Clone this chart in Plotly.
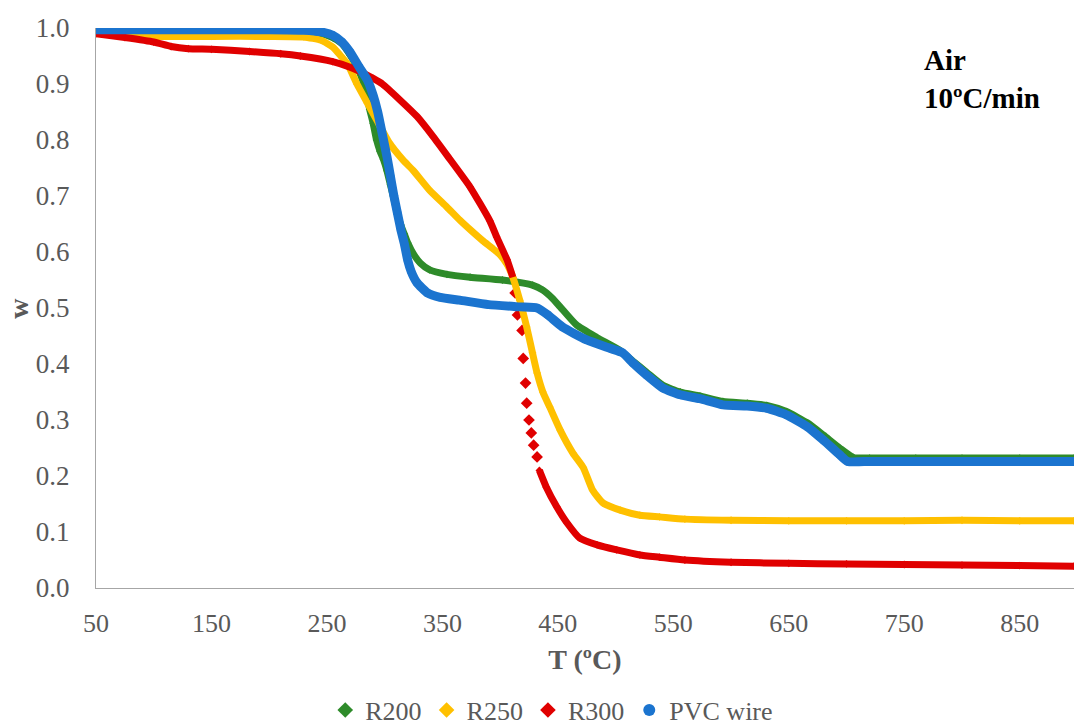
import plotly.graph_objects as go

# ---------------- data ----------------
r200_T = [50, 100, 150, 200, 230, 245, 255, 263, 270, 278,
          284, 287, 290, 293, 296, 299, 302, 305, 308, 311,
          314, 317, 320, 325, 331, 339, 354, 374, 402, 428,
          437, 445, 452, 466, 484, 504, 515, 527, 541, 556,
          573, 593, 614, 631, 648, 666, 680, 694, 706, 720,
          760, 800, 850, 897]
r200_w = [0.995, 0.995, 0.995, 0.995, 0.994, 0.99, 0.983, 0.972, 0.952, 0.922,
          0.885, 0.855, 0.83, 0.8, 0.78, 0.765, 0.745, 0.72, 0.695, 0.668,
          0.648, 0.632, 0.616, 0.596, 0.58, 0.568, 0.56, 0.555, 0.55, 0.541,
          0.532, 0.518, 0.502, 0.47, 0.447, 0.424, 0.405, 0.385, 0.362, 0.35,
          0.343, 0.333, 0.33, 0.326, 0.315, 0.295, 0.273, 0.25, 0.233, 0.232,
          0.232, 0.232, 0.232, 0.232]

r250_T = [50, 75, 100, 150, 200, 230, 245, 255, 262, 268,
          276, 285, 293, 304, 316, 325, 339, 354, 365, 375,
          385, 393, 400, 406, 411, 417, 423, 428, 432, 437,
          443, 452, 463, 472, 480, 489, 504, 521, 538, 560,
          600, 650, 700, 750, 800, 850, 897]
r250_w = [0.99, 0.987, 0.985, 0.985, 0.985, 0.984, 0.978, 0.966, 0.95, 0.935,
          0.9, 0.866, 0.836, 0.795, 0.764, 0.745, 0.71, 0.68, 0.657, 0.638,
          0.62, 0.607, 0.595, 0.578, 0.555, 0.514, 0.466, 0.42, 0.384, 0.35,
          0.323, 0.282, 0.241, 0.215, 0.175, 0.152, 0.139, 0.13, 0.127, 0.123,
          0.121, 0.12, 0.12, 0.12, 0.121, 0.12, 0.12]

r300_T = [50, 75, 100, 115, 130, 150, 183, 210, 227, 255,
          270, 281, 290, 298, 313, 328, 342, 356, 374, 391,
          397, 406, 411, 413, 415, 419, 420, 422, 423, 425,
          427, 429, 432, 434, 440, 449, 458, 469, 484, 501,
          521, 538, 560, 600, 650, 700, 750, 800, 850, 897]
r300_w = [0.99, 0.983, 0.975, 0.967, 0.963, 0.962, 0.958, 0.954, 0.95, 0.94,
          0.93, 0.92, 0.91, 0.9, 0.872, 0.842, 0.806, 0.767, 0.716, 0.656,
          0.627, 0.586, 0.555, 0.527, 0.4875, 0.46, 0.41, 0.366, 0.33, 0.3,
          0.277, 0.255, 0.234, 0.21, 0.18, 0.145, 0.116, 0.089, 0.077, 0.068,
          0.059, 0.055, 0.05, 0.046, 0.044, 0.043, 0.042, 0.041, 0.04, 0.039]

pvc_T = [50, 100, 150, 200, 230, 245, 255, 263, 270, 278,
         285, 290, 294, 298, 302, 305, 308, 311, 314, 317,
         320, 323, 328, 337, 348, 365, 390, 417, 432, 441,
         454, 475, 495, 506, 515, 527, 541, 556, 573, 593,
         614, 631, 648, 666, 680, 694, 701, 720, 760, 800,
         850, 897]
pvc_w = [0.997, 0.997, 0.997, 0.997, 0.996, 0.993, 0.987, 0.975, 0.957, 0.93,
         0.907, 0.88, 0.85, 0.81, 0.77, 0.735, 0.70, 0.67, 0.64, 0.615,
         0.585, 0.565, 0.545, 0.527, 0.519, 0.514, 0.506, 0.502, 0.5, 0.488,
         0.466, 0.443, 0.428, 0.42, 0.402, 0.38, 0.357, 0.345, 0.338, 0.327,
         0.325, 0.321, 0.309, 0.288, 0.264, 0.238, 0.226, 0.226, 0.226, 0.226,
         0.226, 0.226]

x_ticks = [50, 150, 250, 350, 450, 550, 650, 750, 850]
y_ticks = [0.0, 0.1, 0.2, 0.3, 0.4, 0.5, 0.6, 0.7, 0.8, 0.9, 1.0]

# (name, T, w, colour, symbol, marker size, band width, sparse T-window drawn as markers only)
series = [
    ("R200", r200_T, r200_w, "#2E8B2A", "diamond", 6, 7, None),
    ("R250", r250_T, r250_w, "#FFC000", "diamond", 6, 7, None),
    ("R300", r300_T, r300_w, "#E00000", "diamond", 6, 7, (412, 433)),
    ("PVC wire", pvc_T, pvc_w, "#1B74CF", "circle", 8, 9, None),
]

FONT = "Liberation Serif, Times New Roman, serif"
GREY = "#595959"

fig = go.Figure()
# markers (carry the legend) below, bands on top
for name, xs, ys, col, sym, msize, lw, gap in series:
    if gap:
        sizes = [9 if gap[0] < t < gap[1] else msize for t in xs]
    else:
        sizes = msize
    fig.add_trace(go.Scatter(
        x=xs, y=ys, mode="markers", name=name, legendgroup=name,
        marker=dict(color=col, symbol=sym, size=sizes, opacity=1,
                    line=dict(width=0)),
        cliponaxis=True))
for name, xs, ys, col, sym, msize, lw, gap in series:
    if gap:
        yl = [None if gap[0] < t < gap[1] else v for t, v in zip(xs, ys)]
    else:
        yl = ys
    fig.add_trace(go.Scatter(
        x=xs, y=yl, mode="lines", name=name, legendgroup=name, showlegend=False,
        line=dict(color=col, width=lw, shape="spline", smoothing=0.5),
        connectgaps=False, cliponaxis=False, hoverinfo="skip"))

fig.update_layout(
    width=1074, height=726,
    margin=dict(l=96, r=0, t=28, b=138, autoexpand=False),
    paper_bgcolor="white", plot_bgcolor="white",
    font=dict(family=FONT, color=GREY, size=26),
    hovermode=False,
    showlegend=True,
    legend=dict(orientation="h", xref="paper", yref="paper",
                x=0.466, xanchor="center", y=-0.218, yanchor="middle",
                font=dict(family=FONT, size=26, color=GREY),
                itemsizing="constant", traceorder="normal",
                tracegroupgap=0, itemwidth=30,
                bgcolor="rgba(0,0,0,0)"),
    xaxis=dict(range=[50, 897], tickmode="array", tickvals=x_ticks,
               ticktext=[str(v) for v in x_ticks], automargin=False,
               showgrid=False, zeroline=False, showline=True,
               linecolor="#A6A6A6", linewidth=1, ticks="",
               ticklabelstandoff=12,
               tickfont=dict(family=FONT, size=26, color=GREY),
               title=dict(text="<b>T (ºC)</b>", standoff=12,
                          font=dict(family=FONT, size=28, color=GREY))),
    yaxis=dict(range=[0, 1.0], tickmode="array", tickvals=y_ticks,
               ticktext=[f"{v:.1f}" for v in y_ticks], automargin=False,
               showgrid=False, zeroline=False, showline=True,
               linecolor="#A6A6A6", linewidth=1, ticks="",
               ticklabelstandoff=20,
               tickfont=dict(family=FONT, size=27, color=GREY)),
    annotations=[
        dict(xref="paper", yref="paper", x=0.8446, y=0.975,
             xanchor="left", yanchor="top", align="left",
             showarrow=False,
             text="<b>Air<br>10ºC/min</b>",
             font=dict(family=FONT, size=29, color="black")),
        dict(xref="paper", yref="paper", x=-0.08, y=0.5,
             xanchor="center", yanchor="middle", textangle=-90,
             showarrow=False, text="<b>w</b>", borderpad=0,
             font=dict(family=FONT, size=28, color=GREY)),
    ],
)

# remove the browser's default 8px body margin so the figure fills the window
fig.write_html("out.html",
               config={"displayModeBar": False, "staticPlot": True},
               post_script="document.body.style.margin='0';"
                           "document.body.style.overflow='hidden';")
